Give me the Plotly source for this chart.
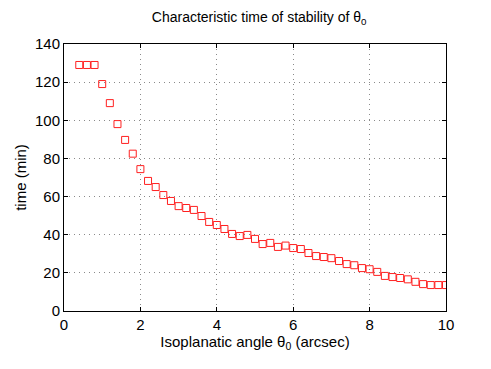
import plotly.graph_objects as go

# isoplanatic angle (arcsec) and characteristic time (min)
theta0 = [0.4, 0.6, 0.8, 1.0, 1.2, 1.4, 1.6, 1.8, 2.0, 2.2, 2.4, 2.6, 2.8, 3.0, 3.2, 3.4,
          3.6, 3.8, 4.0, 4.2, 4.4, 4.6, 4.8, 5.0, 5.2, 5.4, 5.6, 5.8, 6.0, 6.2, 6.4, 6.6,
          6.8, 7.0, 7.2, 7.4, 7.6, 7.8, 8.0, 8.2, 8.4, 8.6, 8.8, 9.0, 9.2, 9.4, 9.6, 9.8, 10.0]
time_min = [129, 129, 129, 119, 109, 98, 89.7, 82.5, 74.4, 68.2, 65, 60.8, 57.7, 55, 54, 53,
            49.8, 46.7, 45.1, 43, 40.4, 39.3, 39.9, 37.8, 35.1, 35.7, 33.6, 34.3, 33, 32.5, 30.4, 28.8,
            28.3, 27.7, 26.2, 24.6, 24, 22.5, 21.9, 20.5, 18.4, 17.8, 17.3, 16.6, 15.3, 14.1, 13.6, 13.6, 13.6]

xticks = [0, 2, 4, 6, 8, 10]
yticks = [0, 20, 40, 60, 80, 100, 120, 140]

fig = go.Figure(go.Scatter(
    x=theta0, y=time_min, mode="markers",
    marker=dict(symbol="square-open", size=7, color="#ff2020", line=dict(width=1)),
))

axis_style = dict(
    showline=True, linecolor="black", linewidth=1, mirror="ticks",
    ticks="inside", ticklen=4, tickcolor="black",
    showgrid=True, gridcolor="#8a8a8a", griddash="1px,4px", gridwidth=1,
    zeroline=False, tickfont=dict(size=15, color="black"),
)

# the page body adds 8px, so the figure is 8px smaller on the top/left
fig.update_layout(
    width=483, height=361,
    margin=dict(l=56, r=45, t=36, b=58),
    paper_bgcolor="white", plot_bgcolor="white",
    font=dict(family="Liberation Sans, Arial, sans-serif", color="black"),
    showlegend=False,
    title=dict(text="Characteristic time of stability of θ<sub>0</sub>",
               x=0.52, xanchor="center", y=0.975, yanchor="middle", font=dict(size=14)),
)
fig.update_xaxes(range=[0, 10], tickvals=xticks,
                 title=dict(text="Isoplanatic angle θ<sub>0</sub> (arcsec)", font=dict(size=15), standoff=0),
                 **axis_style)
fig.update_yaxes(range=[0, 140], tickvals=yticks,
                 title=dict(text="time (min)", font=dict(size=15), standoff=4),
                 **axis_style)

fig.write_html("out.html")
